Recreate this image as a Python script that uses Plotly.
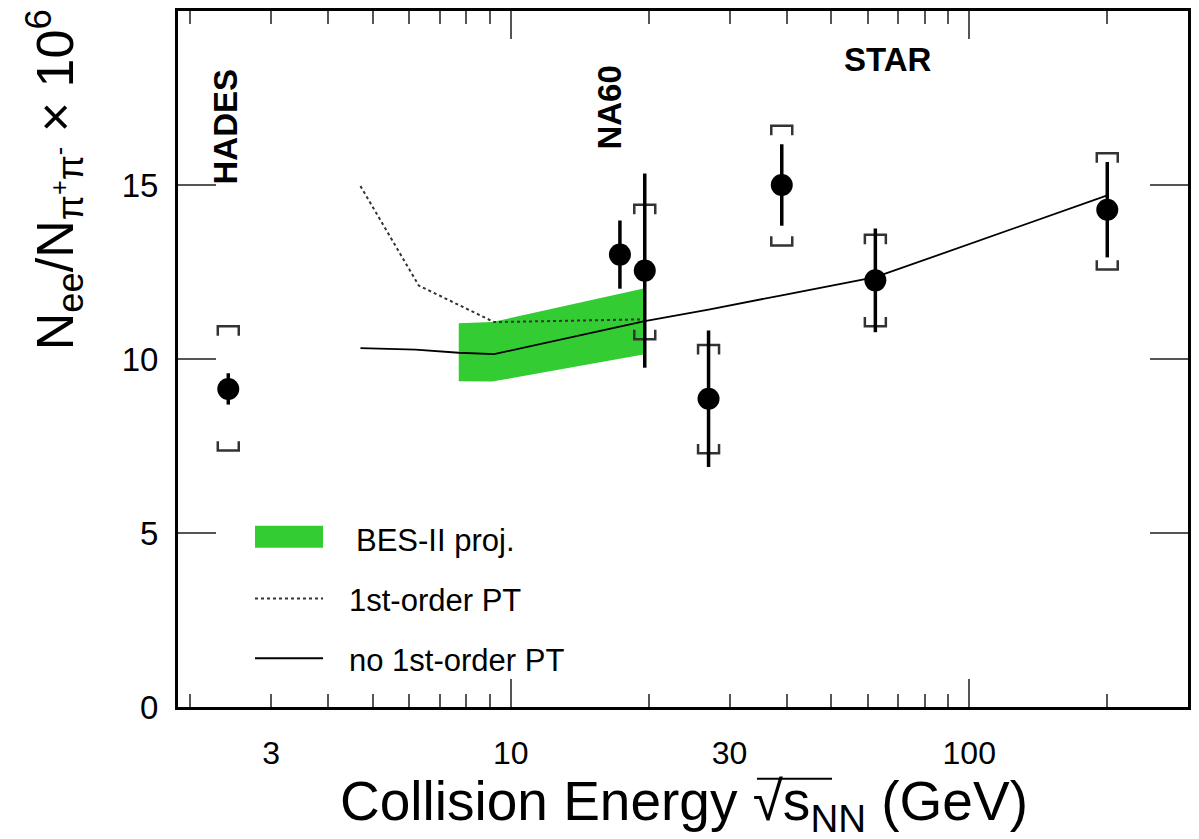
import numpy as np
import plotly.graph_objects as go

# ---------------- data ----------------
# Measured points (sqrt(s_NN) in GeV)
pt_energy = [2.42, 17.3, 19.6, 27.0, 39.0, 62.4, 200.0]
pt_value = [9.14, 13.0, 12.54, 8.86, 15.0, 12.26, 14.29]
pt_stat = [0.45, 0.98, 2.79, 1.96, 1.17, 1.49, 1.37]

# Systematic brackets (HADES and STAR only)
sys_energy = [2.42, 19.6, 27.0, 39.0, 62.4, 200.0]
sys_value = [9.14, 12.54, 8.86, 15.0, 12.26, 14.29]
sys_up = [1.80, 1.89, 1.54, 1.70, 1.31, 1.62]
sys_down = [1.77, 1.97, 1.57, 1.74, 1.32, 1.72]

# BES-II projection band
band_energy = [7.7, 9.1, 19.6]
band_low = [9.36, 9.35, 10.14]
band_high = [11.03, 11.06, 12.03]

# Models
pt1_energy = [4.7, 6.3, 9.2, 19.6]
pt1_value = [14.97, 12.11, 11.06, 11.14]

nopt_energy = [4.7, 6.2, 7.7, 9.2, 19.6, 27.0, 39.0, 62.4, 200.0]
nopt_value = [10.31, 10.27, 10.18, 10.14, 11.09, 11.42, 11.83, 12.35, 14.70]

x_tickvals = [2, 3, 4, 5, 6, 7, 8, 9, 10, 20, 30, 40, 50, 60, 70, 80, 90, 100, 200]
x_ticklabels = ["", "3", "", "", "", "", "", "", "10", "", "30", "", "", "", "", "", "", "100", ""]
x_major = [10, 100]
y_tickvals = [0, 5, 10, 15]

legend_labels = ["BES-II proj.", "1st-order PT", "no 1st-order PT"]

FONT = "Liberation Sans, Arial, Helvetica, sans-serif"
GREEN = "#33cc33"

fig = go.Figure()

# band
fig.add_trace(go.Scatter(
    x=band_energy + band_energy[::-1],
    y=band_high + band_low[::-1],
    fill="toself", fillcolor=GREEN, line=dict(width=0, color=GREEN),
    mode="lines", name=legend_labels[0], showlegend=False, hoverinfo="skip"))

# models
fig.add_trace(go.Scatter(x=pt1_energy, y=pt1_value, mode="lines",
                         line=dict(color="#333333", width=2, dash="dot"),
                         name=legend_labels[1], showlegend=False))
fig.add_trace(go.Scatter(x=nopt_energy, y=nopt_value, mode="lines",
                         line=dict(color="black", width=1.8),
                         name=legend_labels[2], showlegend=False))

# systematic brackets
f = 10 ** (10.5 / 459.0)
d = 0.27
bx, by = [], []
for e, v, up, dn in zip(sys_energy, sys_value, sys_up, sys_down):
    hi, lo = v + up, v - dn
    bx += [e / f, e / f, e * f, e * f, None, e / f, e / f, e * f, e * f, None]
    by += [hi - d, hi, hi, hi - d, None, lo + d, lo, lo, lo + d, None]
fig.add_trace(go.Scatter(x=bx, y=by, mode="lines",
                         line=dict(color="#333333", width=2.5),
                         showlegend=False, hoverinfo="skip"))

# data points
fig.add_trace(go.Scatter(
    x=pt_energy, y=pt_value, mode="markers",
    marker=dict(color="black", size=22),
    error_y=dict(type="data", array=pt_stat, visible=True, color="black",
                 thickness=3.5, width=0),
    showlegend=False, name="data"))

# ---------------- layout ----------------
L, R, T, B = 178, 11, 8, 132
W, H = 1199, 839
pw, ph = W - L - R, H - T - B


def px(xp):
    return (xp - L) / pw


def py(yp):
    return (H - B - yp) / ph


fig.update_layout(
    width=W, height=H,
    margin=dict(l=L, r=R, t=T, b=B, pad=0),
    paper_bgcolor="white", plot_bgcolor="white",
    font=dict(family=FONT, color="black", size=28),
    showlegend=False,
)

fig.update_xaxes(
    type="log", range=[np.log10(1.88), np.log10(300)],
    tickmode="array", tickvals=x_tickvals, ticktext=x_ticklabels,
    ticks="inside", ticklen=13, tickwidth=2, tickcolor="#555555",
    minor=dict(tickmode="array", tickvals=x_major, ticks="inside",
               ticklen=28, tickwidth=2, tickcolor="#555555"),
    mirror="allticks", showline=True, linewidth=3, linecolor="black",
    showgrid=False, zeroline=False,
    tickfont=dict(size=32), ticklabelstandoff=16,
)
fig.update_yaxes(
    range=[0, 20], tickmode="array", tickvals=y_tickvals,
    ticks="inside", ticklen=38, tickwidth=2, tickcolor="#555555",
    mirror="allticks", showline=True, linewidth=3, linecolor="black",
    showgrid=False, zeroline=False,
    tickfont=dict(size=33), ticklabelstandoff=10,
)

ann = []
# axis titles
ann.append(dict(text="Collision Energy √s<sub>NN</sub> (GeV)", xref="paper", yref="paper",
                x=px(684), y=py(843), xanchor="center", yanchor="bottom",
                showarrow=False, font=dict(size=55)))
ann.append(dict(text="N<sub>ee</sub>/N<sub>π<sup>+</sup>π<sup>-</sup></sub> × 10<sup>6</sup>",
                xref="paper", yref="paper", x=px(55), y=py(178),
                xanchor="center", yanchor="middle", textangle=-90,
                showarrow=False, font=dict(size=52)))
# experiment labels
ann.append(dict(text="<b>HADES</b>", xref="paper", yref="paper", x=px(226), y=py(124),
                textangle=-90, xanchor="center", yanchor="middle", showarrow=False,
                font=dict(size=33)))
ann.append(dict(text="<b>NA60</b>", xref="paper", yref="paper", x=px(610), y=py(105),
                textangle=-90, xanchor="center", yanchor="middle", showarrow=False,
                font=dict(size=33)))
ann.append(dict(text="<b>STAR</b>", xref="paper", yref="paper", x=px(888), y=py(57),
                xanchor="center", yanchor="middle", showarrow=False,
                font=dict(size=33)))
# legend text
ann.append(dict(text=legend_labels[0], xref="paper", yref="paper", x=px(354), y=py(540),
                xanchor="left", yanchor="middle", showarrow=False, font=dict(size=31)))
ann.append(dict(text=legend_labels[1], xref="paper", yref="paper", x=px(347), y=py(600),
                xanchor="left", yanchor="middle", showarrow=False, font=dict(size=31)))
ann.append(dict(text=legend_labels[2], xref="paper", yref="paper", x=px(347), y=py(660),
                xanchor="left", yanchor="middle", showarrow=False, font=dict(size=31)))
fig.update_layout(annotations=ann)

# legend swatches + radical overline of the axis title
shapes = [
    dict(type="rect", xref="paper", yref="paper", x0=px(255), x1=px(323), y0=py(547), y1=py(525),
         fillcolor=GREEN, line=dict(width=0)),
    dict(type="line", xref="paper", yref="paper", x0=px(255), x1=px(323), y0=py(598), y1=py(598),
         line=dict(color="#333333", width=2, dash="dot")),
    dict(type="line", xref="paper", yref="paper", x0=px(255), x1=px(323), y0=py(658), y1=py(658),
         line=dict(color="black", width=2)),
    dict(type="line", xref="paper", yref="paper", x0=px(757), x1=px(832), y0=py(779), y1=py(779),
         line=dict(color="black", width=2)),
]
fig.update_layout(shapes=shapes)

fig.write_html("out.html")
